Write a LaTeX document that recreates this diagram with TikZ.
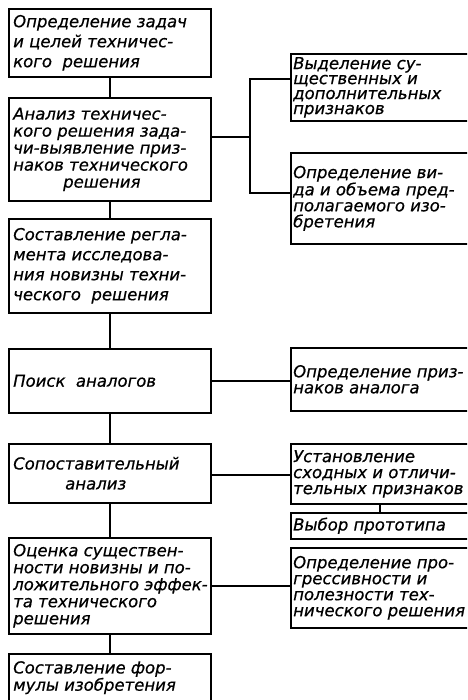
\documentclass[tikz,border=0pt]{standalone}
\usepackage{fontspec}
\setmainfont{DejaVu Sans}[ItalicFeatures={FakeBold=0.6}]
\begin{document}
\begin{tikzpicture}[x=1pt,y=-1pt]
\tikzset{
  box/.style={draw, line width=1.6pt, rectangle, inner sep=0pt, anchor=north west},
  lbox/.style={box, minimum width=202pt},
  rbox/.style={box, minimum width=210pt},
  txt/.style={anchor=west, align=left, inner sep=0pt, font=\fontsize{16.5}{#1}\selectfont\itshape},
  txt/.default=17,
  ln/.style={line width=1.6pt}
}
\useasboundingbox (0,0) rectangle (467,700);
\fill[white] (0,0) rectangle (467,700);
\clip (0,0) rectangle (467,700);
% left column
\node[lbox, minimum height=68pt]  (b1) at (8,8)   {};
\node[lbox, minimum height=103pt] (b2) at (8,97)  {};
\node[lbox, minimum height=94pt]  (b3) at (8,218) {};
\node[lbox, minimum height=64pt]  (b4) at (8,348) {};
\node[lbox, minimum height=59pt]  (b5) at (8,443) {};
\node[lbox, minimum height=96pt]  (b6) at (8,537) {};
\node[lbox, minimum height=70pt]  (b7) at (8,653) {};
\node[txt=20] (t1) at ([xshift=5pt]b1.west) {Определение задач\\и целей техничес-\\кого\ \ решения};
\node[txt=17] (t2) at ([xshift=5pt]b2.west) {Анализ техничес-\\кого решения зада-\\чи-выявление приз-\\наков технического\\\hspace*{50pt}решения};
\node[txt=20] (t3) at ([xshift=5pt]b3.west) {Составление регла-\\мента исследова-\\ния новизны техни-\\ческого\ \ решения};
\node[txt] (t4) at ([xshift=5pt]b4.west) {Поиск\ \ аналогов};
\node[txt=20] (t5) at ([xshift=5pt]b5.west) {Сопоставительный\\\hspace*{52pt}анализ};
\node[txt=17] (t6) at ([xshift=5pt]b6.west) {Оценка существен-\\ности новизны и по-\\ложительного эффек-\\та технического\\решения};
\node[txt=16] (t7) at ([xshift=5pt,yshift=-8pt]b7.north west) [anchor=north west] {Составление фор-\\мулы изобретения};
% right column
\node[rbox, minimum height=67pt] (rA) at (290,53)  {};
\node[rbox, minimum height=91pt] (rB) at (290,152) {};
\node[rbox, minimum height=63pt] (rC) at (290,347) {};
\node[rbox, minimum height=60pt] (rD) at (290,443) {};
\node[rbox, minimum height=26pt] (rE) at (290,512) {};
\node[rbox, minimum height=80pt] (rF) at (290,547) {};
\node[txt=15] (tA) at ([xshift=3pt]rA.west) {Выделение су-\\щественных и\\дополнительных\\признаков};
\node[txt=16] (tB) at ([xshift=3pt]rB.west) {Определение ви-\\да и объема пред-\\полагаемого изо-\\бретения};
\node[txt=16] (tC) at ([xshift=3pt]rC.west) {Определение приз-\\наков аналога};
\node[txt=16] (tD) at ([xshift=3pt]rD.west) {Установление\\сходных и отличи-\\тельных признаков};
\node[txt] (tE) at ([xshift=3pt]rE.west) {Выбор прототипа};
\node[txt=16] (tF) at ([xshift=3pt]rF.west) {Определение про-\\грессивности и\\полезности тех-\\нического решения};
% connectors
\draw[ln] (b1.south) -- (b2.north);
\draw[ln] (b2.south) -- (b3.north);
\draw[ln] (b3.south) -- (b4.north);
\draw[ln] (b4.south) -- (b5.north);
\draw[ln] (b5.south) -- (b6.north);
\draw[ln] (b6.south) -- (b7.north);
\coordinate (j1) at (250,137);
\coordinate (j2) at (250,79);
\coordinate (j3) at (250,193);
\coordinate (k5) at (250,475);
\draw[ln] (b2.east |- j1) -- (j1);
\draw[ln] (rA.west |- j2) -- (j2) -- (j3) -- (rB.west |- j3);
\draw[ln] (b4.east) -- (b4.east -| rC.west);
\draw[ln] (b5.east |- k5) -- (rD.west |- k5);
\draw[ln] (b6.east) -- (b6.east -| rF.west);
\coordinate (dex) at (380,0);
\draw[ln] (rD.south -| dex) -- (rE.north -| dex);
\end{tikzpicture}
\end{document}
